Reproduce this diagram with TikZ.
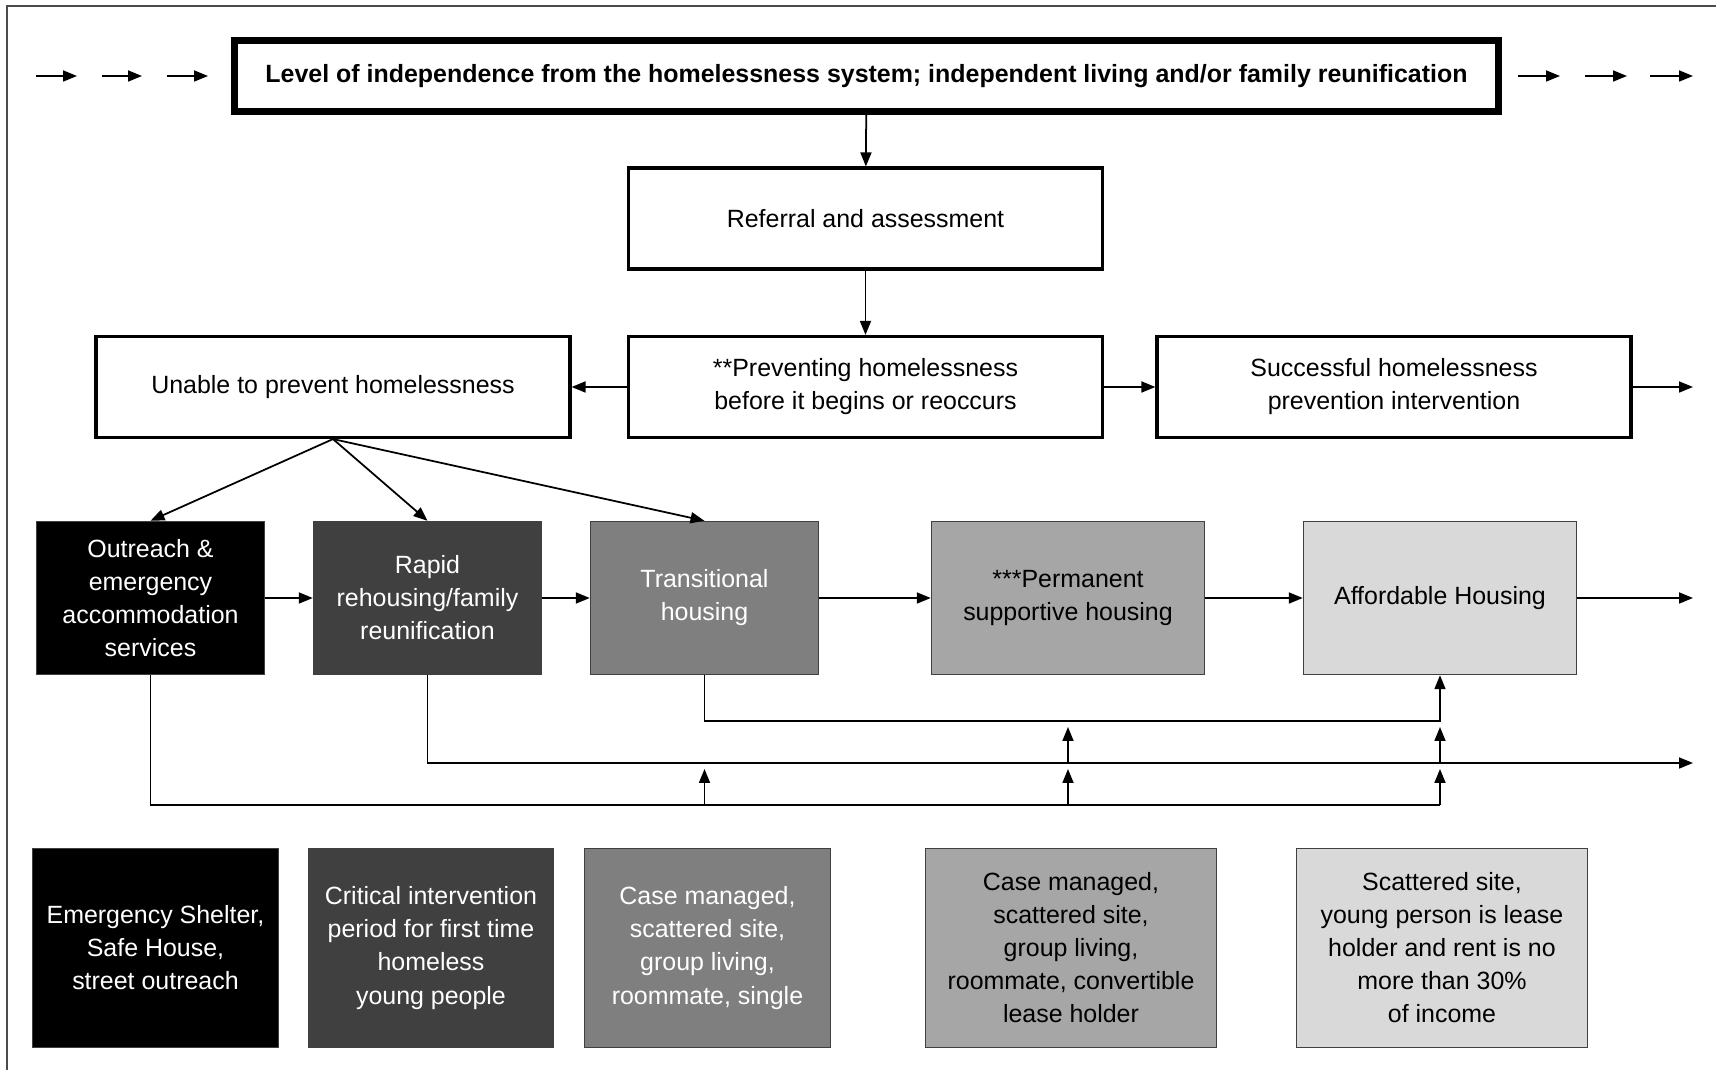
\documentclass[tikz,border=0pt]{standalone}
\usepackage{fontspec}
\setmainfont{Liberation Sans}
\usetikzlibrary{arrows.meta,calc,positioning}
\definecolor{charcoal}{HTML}{404040}
\definecolor{slate}{HTML}{7F7F7F}
\definecolor{silver}{HTML}{A6A6A6}
\definecolor{mist}{HTML}{D9D9D9}

\begin{document}
\begin{tikzpicture}[font=\fontsize{7.1}{9.4}\selectfont,>={Triangle[length=1.4mm,width=1.1mm]},line join=miter]
  \tikzset{
    outline/.style={draw=black,line width=0.9pt,minimum width=4.74cm,minimum height=1.01cm,align=center},
    stage/.style={draw=black!75,line width=0.4pt,minimum height=1.53cm,align=center},
    detail/.style={draw=black!75,line width=0.4pt,minimum height=1.99cm,align=center},
    flow/.style={->,line width=0.5pt}
  }
  \useasboundingbox (0,0) rectangle (17.16,10.70);
  \draw[black!70,line width=0.6pt] (0.07,0) -- (0.07,10.64) -- (17.16,10.64);
  % Top level
  \node[draw,line width=2pt,minimum width=12.64cm,minimum height=0.71cm,font=\fontsize{7.1}{9.4}\selectfont\bfseries] (level) at (8.665,9.94)
    {Level of independence from the homelessness system; independent living and/or family reunification};
  \foreach \xa/\xb in {0.36/0.77,1.02/1.42,1.67/2.08,15.18/15.60,15.85/16.27,16.50/16.93}{\draw[flow] (\xa,9.94) -- (\xb,9.94);}
  % Referral and prevention
  \node[outline] (refer) at (8.655,8.515) {Referral and assessment};
  \node[outline] (unable) at (3.33,6.83) {Unable to prevent homelessness};
  \node[outline] (prevent) at (8.655,6.83) {**Preventing homelessness\\before it begins or reoccurs};
  \node[outline] (success) at (13.94,6.83) {Successful homelessness\\prevention intervention};
  \coordinate (exitS) at (16.93,6.83);
  \draw[flow] (level) -- (refer);
  \draw[flow] (refer) -- (prevent);
  \draw[flow] (prevent) -- (unable);
  \draw[flow] (prevent) -- (success);
  \draw[flow] (success) -- (exitS);
  % Stages
  \node[stage,fill=black,text=white,minimum width=2.28cm] (outreach) at (1.505,4.72) {Outreach \&\\emergency\\accommodation\\services};
  \node[stage,fill=charcoal,text=white,minimum width=2.28cm] (rapid) at (4.275,4.72) {Rapid\\rehousing/family\\reunification};
  \node[stage,fill=slate,text=white,minimum width=2.28cm] (trans) at (7.045,4.72) {Transitional\\housing};
  \node[stage,fill=silver,minimum width=2.73cm] (perm) at (10.68,4.72) {***Permanent\\supportive housing};
  \node[stage,fill=mist,minimum width=2.73cm] (afford) at (14.40,4.72) {Affordable Housing};
  \coordinate (exitA) at (16.93,4.72);
  \foreach \n in {outreach,rapid,trans}{\draw[flow] (unable.south) -- (\n.north);}
  \draw[flow] (outreach) -- (rapid);
  \draw[flow] (rapid) -- (trans);
  \draw[flow] (trans) -- (perm);
  \draw[flow] (perm) -- (afford);
  \draw[flow] (afford) -- (exitA);
  % Moving on between stages
  \coordinate (lineT) at (0,3.49);
  \coordinate (lineR) at (0,3.07);
  \coordinate (lineO) at (0,2.65);
  \coordinate (exitR) at (16.93,3.07);
  \draw[flow] (trans.south) |- (afford.south |- lineT) -- (afford.south);
  \draw[flow] (rapid.south) |- (exitR);
  \draw[line width=0.5pt] (outreach.south) |- (afford.south |- lineO);
  \foreach \n in {trans,perm,afford}{\draw[flow] (\n.south |- lineO) -- ++(0,0.36);}
  \foreach \n in {perm,afford}{\draw[flow] (\n.south |- lineR) -- ++(0,0.36);}
  % Details
  \node[detail,fill=black,text=white,minimum width=2.46cm] (shelter) at (1.555,1.22) {Emergency Shelter,\\Safe House,\\street outreach};
  \node[detail,fill=charcoal,text=white,minimum width=2.45cm] (critical) at (4.31,1.22) {Critical intervention\\period for first time\\homeless\\young people};
  \node[detail,fill=slate,text=white,minimum width=2.46cm] (managed) at (7.075,1.22) {Case managed,\\scattered site,\\group living,\\roommate, single};
  \node[detail,fill=silver,minimum width=2.91cm] (convert) at (10.71,1.22) {Case managed,\\scattered site,\\group living,\\roommate, convertible\\lease holder};
  \node[detail,fill=mist,minimum width=2.91cm] (scatter) at (14.42,1.22) {Scattered site,\\young person is lease\\holder and rent is no\\more than 30\%\\of income};
\end{tikzpicture}
\end{document}
